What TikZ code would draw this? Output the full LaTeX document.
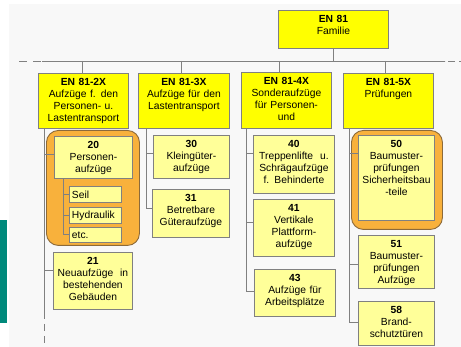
\documentclass[tikz,border=0pt]{standalone}
\usepackage{fontspec}
\setmainfont{Liberation Sans}
\usetikzlibrary{calc}

\definecolor{enyellow}{HTML}{FFFF00}
\definecolor{enpale}{HTML}{FFFF99}
\definecolor{enorange}{HTML}{F8B13C}
\definecolor{enbrown}{HTML}{8C6A3A}
\definecolor{enline}{HTML}{808080}
\definecolor{enteal}{HTML}{00897B}
\definecolor{enback}{HTML}{F8F8F8}

% box with top-aligned text: name, style, x, y, width, height, text
\newcommand{\enbox}[7]{%
  \node[#2, minimum width=#5pt, minimum height=#6pt, anchor=north west] (#1) at (#3,#4) {};
  \node[box text, text width=#5pt, anchor=north] (#1-t) at ([yshift=-4.5pt]#1.north) {#7};}

\begin{document}
\begin{tikzpicture}[x=1pt,y=-1pt,line width=0.9pt,
  top box/.style={draw=enline,fill=enyellow,inner sep=0pt},
  sub box/.style={draw=enline,fill=enpale,inner sep=0pt},
  group box/.style={draw=enbrown,fill=enorange,rounded corners=12pt,inner sep=0pt},
  box text/.style={font=\fontsize{10.3}{12.2}\selectfont,align=center,inner sep=0pt},
  item box/.style={draw=enline,fill=enpale,inner xsep=2.5pt,inner ysep=0pt,
    minimum height=16pt,text width=47pt,align=left,anchor=north west,
    font=\fontsize{10.3}{12}\selectfont},
  conn/.style={draw=enline,line width=0.9pt}]

  \useasboundingbox (0,0) rectangle (461,347);
  \fill[white] (0,0) rectangle (461,347);
  \fill[enback] (9,4) rectangle (461,347);
  \fill[enteal] (0,220) rectangle (7,323);

  % groups
  \node[group box, minimum width=93pt, minimum height=115pt, anchor=north west] (g20) at (46,130) {};
  \node[group box, minimum width=91pt, minimum height=99pt, anchor=north west] (g50) at (351,130) {};

  % top
  \enbox{fam}{top box}{278}{10}{110}{38}{\textbf{EN 81}\\Familie}
  \enbox{k2}{top box}{38}{73}{90}{55}{\textbf{EN 81-2X}\\Aufzüge f. den\\Personen- u.\\Lastentransport}
  \enbox{k3}{top box}{138}{73}{91}{55}{\textbf{EN 81-3X}\\Aufzüge für den\\Lastentransport}
  \enbox{k4}{top box}{241}{72}{90}{56}{\textbf{EN 81-4X}\\Sonderaufzüge\\für Personen-\\und}
  \enbox{k5}{top box}{343}{73}{90}{55}{\textbf{EN 81-5X}\\Prüfungen}

  % column 2X
  \enbox{b20}{sub box}{54}{136}{78}{42}{\textbf{20}\\Personen-\\aufzüge}
  \node[item box] (seil) at (69,186) {Seil};
  \node[item box] (hydr) at (69,207) {Hydraulik};
  \node[item box, minimum height=15pt] (etc) at (69,227) {etc.};
  \enbox{b21}{sub box}{53}{252}{79}{57}{\textbf{21}\\Neuaufzüge~~in\\bestehenden\\Gebäuden}

  % column 3X
  \enbox{b30}{sub box}{153}{135}{76}{43}{\textbf{30}\\Kleingüter-\\aufzüge}
  \enbox{b31}{sub box}{152}{189}{77}{48}{\textbf{31}\\Betretbare\\Güteraufzüge}

  % column 4X
  \enbox{b40}{sub box}{253}{135}{81}{58}{\textbf{40}\\Treppenlifte~ u.\\Schrägaufzüge\\f. Behinderte}
  \enbox{b41}{sub box}{253}{199}{81}{57}{\textbf{41}\\Vertikale\\Plattform-\\aufzüge}
  \enbox{b43}{sub box}{254}{269}{81}{47}{\textbf{43}\\Aufzüge für\\Arbeitsplätze}

  % column 5X
  \enbox{b50}{sub box}{358}{135}{76}{85}{\textbf{50}\\Baumuster-\\prüfungen\\Sicherheitsbau\\-teile}
  \enbox{b51}{sub box}{358}{235}{76}{53}{\textbf{51}\\Baumuster-\\prüfungen\\Aufzüge}
  \enbox{b58}{sub box}{358}{301}{76}{44}{\textbf{58}\\Brand-\\schutztüren}

  % bus
  \coordinate (bus L) at (42,61);
  \coordinate (bus R) at (445,61);
  \coordinate (dash L) at (19,61);
  \coordinate (dash R) at (461,61);
  \draw[conn] (fam.south) -- (fam.south |- bus R);
  \draw[conn] (bus L) -- (bus R);
  \draw[conn, dash pattern=on 8pt off 6pt] (dash L) -- (bus L);
  \draw[conn, dash pattern=on 2pt off 4pt on 7pt off 3pt] (dash R) -- (bus R);

  \coordinate (d2) at (82,61);
  \coordinate (d3) at (181,61);
  \coordinate (d4) at (279,61);
  \coordinate (d5) at (385,61);
  \foreach \k in {2,3,4,5}
    \draw[conn] (d\k) -- (d\k |- k\k.north);

  % spines
  \coordinate (s2) at ([xshift=6.5pt]k2.south west);
  \coordinate (s3) at ([xshift=8pt]k3.south west);
  \coordinate (s4) at ([xshift=5pt]k4.south west);
  \coordinate (s5) at ([xshift=6pt]k5.south west);
  \coordinate (s20) at ([xshift=9pt]b20.south west);
  \coordinate (s2 end) at (s2 |- 0,312);

  \draw[conn] ([yshift=-18pt]b20.north west) -| (s2);
  \draw[conn] ([yshift=-18pt]b21.north west) -| (s2);
  \draw[conn] (s2) -- (s2 end);
  \draw[conn, dash pattern=on 7pt off 5pt] (s2 end) -- (s2 end |- 0,347);

  \draw[conn] (seil.west) -| (s20);
  \draw[conn] (hydr.west) -| (s20);
  \draw[conn] (etc.west) -| (s20);

  \draw[conn] ([yshift=-18pt]b30.north west) -| (s3);
  \draw[conn] ([yshift=-19pt]b31.north west) -| (s3);

  \draw[conn] ([yshift=-18pt]b40.north west) -| (s4);
  \draw[conn] ([yshift=-23pt]b41.north west) -| (s4);
  \draw[conn] ([yshift=-22pt]b43.north west) -| (s4);

  \draw[conn] ([yshift=-18pt]b50.north west) -| (s5);
  \draw[conn] ([yshift=-29pt]b51.north west) -| (s5);
  \draw[conn] ([yshift=-21pt]b58.north west) -| (s5);
\end{tikzpicture}
\end{document}
